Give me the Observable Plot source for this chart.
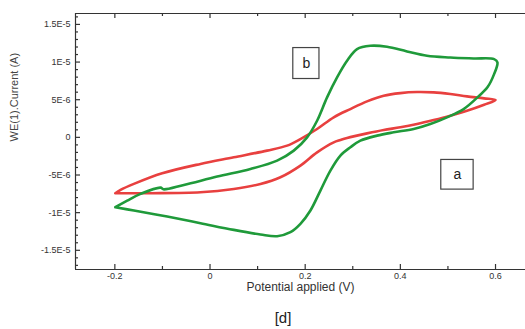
<!DOCTYPE html>
<html><head><meta charset="utf-8">
<script src="https://cdn.jsdelivr.net/npm/d3@7"></script>
<script src="https://cdn.jsdelivr.net/npm/@observablehq/plot@0.6"></script>
<style>
body{margin:0;background:#fff;}
#wrap{position:relative;width:525px;height:329px;}
#cap{font-family:"Liberation Sans",Arial,sans-serif;font-size:15px;color:#222;position:absolute;left:0;width:566px;text-align:center;top:309px;}
</style></head><body><div id="wrap"><div id="chart"></div><div id="cap">[d]</div></div>
<script>
// Curve a (red), potential in V and current in µA
const redV = [-0.199, -0.188, -0.160, -0.1005, -0.020, 0.050, 0.120, 0.162, 0.190, 0.225, 0.260, 0.295, 0.330, 0.365, 0.400, 0.435, 0.470, 0.505, 0.540, 0.576, 0.600, 0.576, 0.540, 0.505, 0.470, 0.435, 0.400, 0.365, 0.330, 0.288, 0.274, 0.260, 0.225, 0.190, 0.148, 0.106, 0.050, -0.020, -0.125, -0.199];
const redI_uA = [-7.42, -6.98, -6.18, -4.77, -3.53, -2.65, -1.76, -1.10, -0.22, 1.11, 2.66, 3.76, 4.78, 5.53, 5.88, 6.02, 5.97, 5.75, 5.44, 5.18, 4.96, 4.34, 3.54, 2.88, 2.30, 1.77, 1.33, 0.98, 0.53, -0.08, -0.35, -0.66, -1.99, -3.75, -5.30, -6.19, -6.85, -7.29, -7.42, -7.42];
// Curve b (green)
const greenV = [-0.199, -0.174, -0.146, -0.104, -0.098, -0.055, 0.015, 0.085, 0.141, 0.176, 0.204, 0.225, 0.246, 0.267, 0.288, 0.309, 0.337, 0.372, 0.414, 0.456, 0.505, 0.554, 0.597, 0.604, 0.597, 0.583, 0.562, 0.533, 0.498, 0.463, 0.428, 0.386, 0.351, 0.316, 0.295, 0.274, 0.253, 0.232, 0.211, 0.190, 0.169, 0.141, 0.106, 0.050, -0.020, -0.090, -0.160, -0.199];
const greenI_uA = [-9.28, -8.40, -7.51, -6.68, -6.90, -6.32, -5.21, -4.20, -3.09, -1.76, 0.00, 2.21, 5.31, 7.96, 10.17, 11.72, 12.16, 12.03, 11.41, 10.84, 10.61, 10.48, 10.39, 9.95, 8.40, 6.64, 5.31, 3.76, 2.66, 1.77, 1.11, 0.67, 0.23, -0.44, -1.32, -2.43, -4.42, -7.07, -9.72, -11.49, -12.60, -13.13, -12.90, -12.29, -11.40, -10.52, -9.72, -9.28];

const xTicks = [-0.2, 0, 0.2, 0.4, 0.6];
const xTickLabels = ["-0.2", "0", "0.2", "0.4", "0.6"];
const xMinorTicks = [-0.1, 0.1, 0.3, 0.5];
const yTicks = [-1.5e-5, -1e-5, -5e-6, 0, 5e-6, 1e-5, 1.5e-5];
const yTickLabels = ["-1.5E-5", "-1E-5", "-5E-6", "0", "5E-6", "1E-5", "1.5E-5"];
const yMinorTicks = d3.range(-17, 17).filter(k => k % 5 !== 0).map(k => k * 1e-6);

const xDomain = [-0.2827, 0.663];
const yDomain = [-1.755e-5, 1.645e-5];

// Annotation boxes (data coordinates)
const boxLabels = ["b", "a"];
const boxX1 = [0.175, 0.486], boxX2 = [0.230, 0.554];
const boxY1 = [7.75e-6, -6.94e-6], boxY2 = [11.86e-6, -3.0e-6];

const redData = redV.map((v, i) => ({V: v, I: redI_uA[i] * 1e-6}));
const greenData = greenV.map((v, i) => ({V: v, I: greenI_uA[i] * 1e-6}));
const boxes = boxLabels.map((l, i) => ({label: l, x1: boxX1[i], x2: boxX2[i], y1: boxY1[i], y2: boxY2[i]}));

const W = 525, H = 305, mL = 75, mR = 0, mT = 13, mB = 36;
const innerW = W - mL - mR, innerH = H - mT - mB;
// convert a tick length in pixels to data units of each scale
const dxPx = px => px * (xDomain[1] - xDomain[0]) / innerW;
const dyPx = px => px * (yDomain[1] - yDomain[0]) / innerH;
const axisColor = "#333";
const sw = 1.2;
const chart = Plot.plot({
  width: W, height: H,
  marginLeft: mL, marginRight: mR, marginTop: mT, marginBottom: mB,
  x: {domain: xDomain},
  y: {domain: yDomain},
  style: {fontFamily: "'Liberation Sans', Arial, sans-serif", fontSize: "9px", color: "#333", background: "#fff"},
  marks: [
    Plot.ruleY([yDomain[1]], {stroke: axisColor, strokeWidth: sw}),
    Plot.ruleY([yDomain[0]], {stroke: axisColor, strokeWidth: sw}),
    Plot.ruleX([xDomain[0]], {stroke: axisColor, strokeWidth: sw}),
    // inward ticks
    Plot.ruleX(xTicks, {x: d => d, y1: yDomain[0], y2: yDomain[0] + dyPx(5), stroke: axisColor, strokeWidth: sw}),
    Plot.ruleX(xMinorTicks, {x: d => d, y1: yDomain[0], y2: yDomain[0] + dyPx(3), stroke: axisColor, strokeWidth: sw}),
    Plot.ruleX(xTicks, {x: d => d, y1: yDomain[1], y2: yDomain[1] - dyPx(5), stroke: axisColor, strokeWidth: sw}),
    Plot.ruleX(xMinorTicks, {x: d => d, y1: yDomain[1], y2: yDomain[1] - dyPx(3), stroke: axisColor, strokeWidth: sw}),
    Plot.ruleY(yTicks, {y: d => d, x1: xDomain[0], x2: xDomain[0] + dxPx(5), stroke: axisColor, strokeWidth: sw}),
    Plot.ruleY(yMinorTicks, {y: d => d, x1: xDomain[0], x2: xDomain[0] + dxPx(3), stroke: axisColor, strokeWidth: sw}),
    Plot.axisX(xTicks, {anchor: "bottom", tickSize: 0, tickPadding: 3, fontSize: 9, tickFormat: d => xTickLabels[xTicks.indexOf(d)], label: null}),
    Plot.axisY(yTicks, {anchor: "left", tickSize: 0, tickPadding: 5, fontSize: 9, tickFormat: d => yTickLabels[yTicks.indexOf(d)], label: null}),
    Plot.text(["Potential applied (V)"], {frameAnchor: "bottom", dy: 21, fontSize: 12, fill: "#333"}),
    Plot.text(["WE(1).Current (A)"], {frameAnchor: "left", rotate: -90, dx: -61, fontSize: 11, fill: "#444"}),
    Plot.line(redData, {x: "V", y: "I", stroke: "#e8403f", strokeWidth: 2.6, curve: "catmull-rom"}),
    Plot.line(greenData, {x: "V", y: "I", stroke: "#1f9a3a", strokeWidth: 2.6, curve: "catmull-rom"}),
    Plot.rect(boxes, {x1: "x1", x2: "x2", y1: "y1", y2: "y2", fill: "white", stroke: "#444", strokeWidth: 1.2}),
    Plot.text(boxes, {x: d => (d.x1 + d.x2) / 2, y: d => (d.y1 + d.y2) / 2, text: "label", fontSize: 14, fill: "#222", fontFamily: "'Liberation Sans', Arial, sans-serif"})
  ]
});
document.getElementById("chart").appendChild(chart);
</script>
</body></html>
